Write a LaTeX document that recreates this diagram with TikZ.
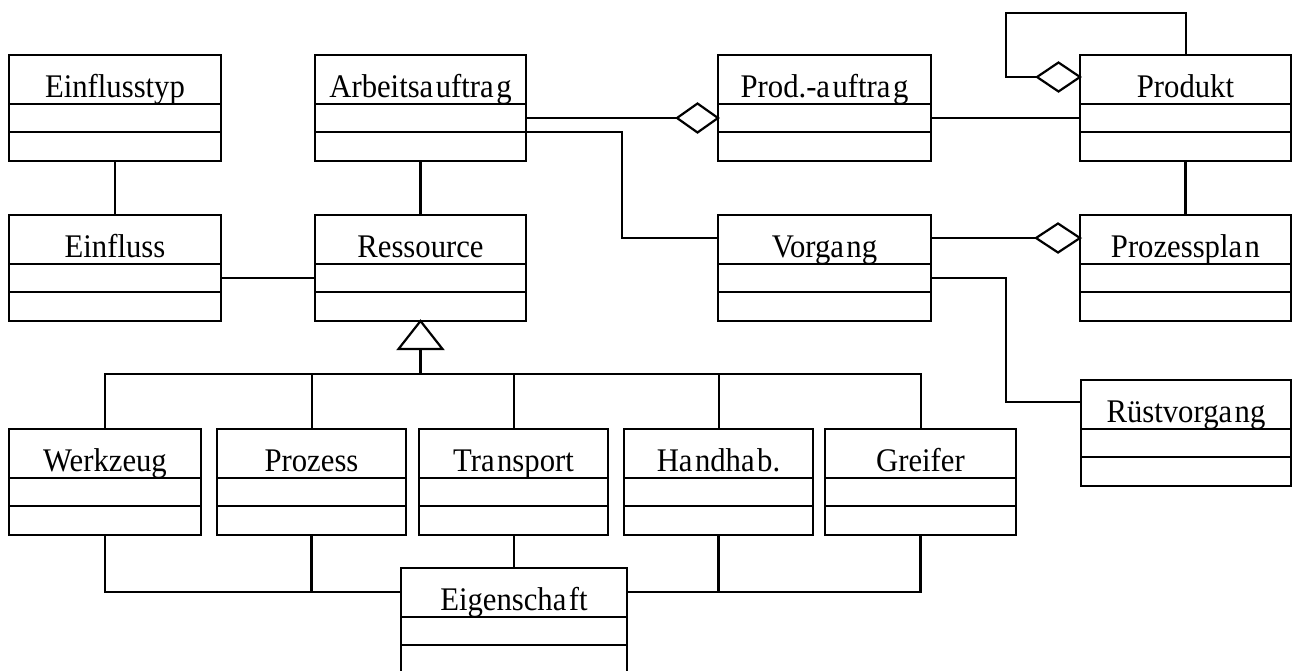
\documentclass[tikz,border=0pt]{standalone}
\usepackage{fontspec}
\setmainfont[FakeStretch=0.93]{Liberation Serif}
\usetikzlibrary{calc}

% loose spacing after an "a", as in the typeset class names
\newcommand\ak{\kern2.5pt\relax}

% A UML class box: name, left, top, width, title
\newcommand\umlclass[5]{%
  \node[classbox, minimum width=#4] (#1) at (#2,#3) {};
  \draw[sepline] ([yshift=-49pt]#1.north west) -- ([yshift=-49pt]#1.north east);
  \draw[sepline] ([yshift=-77pt]#1.north west) -- ([yshift=-77pt]#1.north east);
  \node[classtitle] (#1-t) at ([yshift=-42pt]#1.north) {#5};
}

\begin{document}
\begin{tikzpicture}[x=1pt,y=-1pt,
  classbox/.style={draw, line width=2.3pt, rectangle, inner sep=0pt, outer sep=0pt,
                   anchor=north west, minimum height=106pt},
  sepline/.style={line width=2.3pt},
  strong/.style={line width=2.9pt},
  medium/.style={line width=2.3pt},
  light/.style={line width=2pt},
  classtitle/.style={anchor=base, inner sep=0pt, font=\fontsize{33}{33}\selectfont},
  hollow/.style={line width=2.2pt, fill=white, line join=miter}]
\fill[white] (0,0) rectangle (1293,670);
\useasboundingbox (0,0) rectangle (1293,670);

% top row
\umlclass{etyp}{9}{55}{212}{Einflusstyp}
\umlclass{arb}{315}{55}{211}{Arbeitsa\ak uftra\ak g}
\umlclass{prod}{718}{55}{213}{Prod.-a\ak uftra\ak g}
\umlclass{produkt}{1080}{55}{211}{Produkt}
% second row
\umlclass{einfl}{9}{215}{212}{Einfluss}
\umlclass{res}{315}{215}{211}{Ressource}
\umlclass{vorg}{718}{215}{213}{Vorga\ak ng}
\umlclass{pplan}{1080}{215}{211}{Prozesspla\ak n}
\umlclass{ruest}{1081}{380}{210}{Rüstvorga\ak ng}
% resource kinds
\umlclass{werk}{9}{429}{192}{Werkzeug}
\umlclass{proz}{217}{429}{189}{Prozess}
\umlclass{trans}{419}{429}{189}{Tra\ak nsport}
\umlclass{hand}{624}{429}{189}{Ha\ak ndha\ak b.}
\umlclass{greif}{825}{429}{191}{Greifer}
\umlclass{eig}{401}{568}{226}{Eigenscha\ak ft}

% plain associations
\draw[strong] (etyp.south) -- (einfl.north);
\draw[strong] ([yshift=-63pt]einfl.north east) -- ([yshift=-63pt]res.north west);
\draw[strong] (arb.south) -- (res.north);
\draw[strong] ([yshift=-63pt]prod.north east) -- ([yshift=-63pt]produkt.north west);
\draw[strong] (produkt.south) -- (pplan.north);

% aggregation Arbeitsauftrag -> Prod.-auftrag
\coordinate (aggA) at ([yshift=-63pt]prod.north west);
\draw[strong] ([yshift=-63pt]arb.north east) -- ([xshift=-41pt]aggA);
\draw[hollow] (aggA) -- ++(-20.5,-14.5) -- ++(-20.5,14.5) -- ++(20.5,14.5) -- cycle;

% aggregation Vorgang -> Prozessplan
\coordinate (aggB) at ([yshift=-23pt]pplan.north west);
\draw[strong] ([yshift=-23pt]vorg.north east) -- ([xshift=-44pt]aggB);
\draw[hollow] (aggB) -- ++(-22,-14.5) -- ++(-22,14.5) -- ++(22,14.5) -- cycle;

% self aggregation of Produkt
\coordinate (aggC) at ([yshift=-22pt]produkt.north west);
\draw[light] (produkt.north) -- ++(0,-42) -- ++(-180,0) |- ([xshift=-43pt]aggC);
\draw[hollow] (aggC) -- ++(-21.5,-14.5) -- ++(-21.5,14.5) -- ++(21.5,14.5) -- cycle;

% Arbeitsauftrag -> Vorgang, Vorgang -> Ruestvorgang
\draw[light] ([yshift=-77pt]arb.north east) -- ++(96,0) |- ([yshift=-23pt]vorg.north west);
\draw[light] ([yshift=-63pt]vorg.north east) -- ++(75,0) |- ([yshift=-22pt]ruest.north west);

% generalization of Ressource
\draw[hollow] (res.south) -- ++(22,28) -- ++(-44,0) -- cycle;
\draw[medium] ([yshift=-28pt]res.south) -- ++(0,25) coordinate (bus);
\draw[light] (werk.north) |- (bus);
\draw[light] (greif.north) |- (bus);
\draw[light] (proz.north) -- (proz.north |- bus);
\draw[light] (trans.north) -- (trans.north |- bus);
\draw[light] (hand.north) -- (hand.north |- bus);

% links to Eigenschaft
\coordinate (eigL) at ([yshift=-24pt]eig.north west);
\coordinate (eigR) at ([yshift=-24pt]eig.north east);
\draw[medium] (werk.south) |- (eigL);
\draw[medium] (proz.south) -- (proz.south |- eigL);
\draw[light] (trans.south) -- (trans.south |- eig.north);
\draw[medium] (greif.south) |- (eigR);
\draw[medium] (hand.south) -- (hand.south |- eigR);
\end{tikzpicture}
\end{document}
